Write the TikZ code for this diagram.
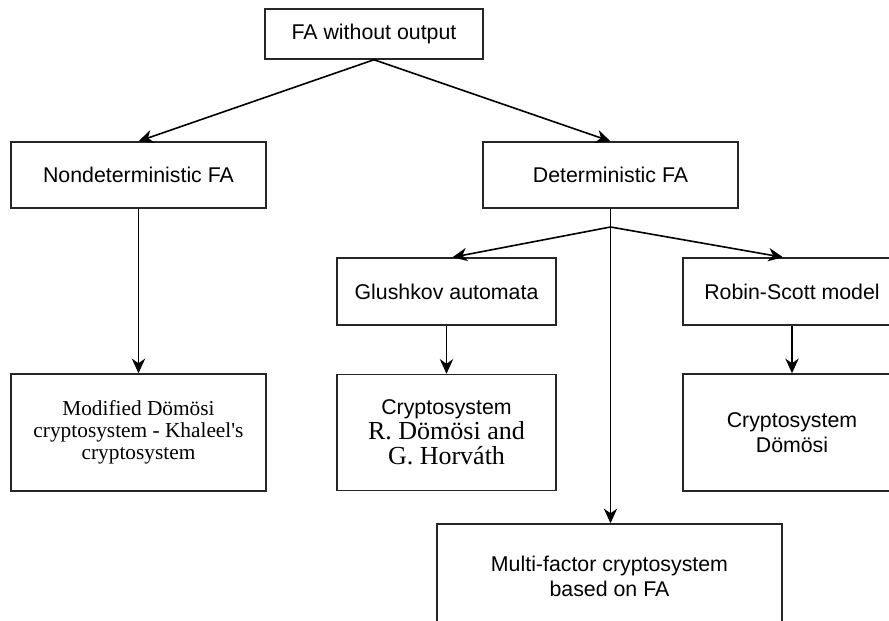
\documentclass[tikz,border=0pt]{standalone}
\usepackage{fontspec}
\setmainfont{Liberation Sans}
\newfontfamily\timesfont{Liberation Serif}
\usetikzlibrary{arrows.meta}

\begin{document}
\begin{tikzpicture}[x=0.75pt,y=-0.75pt,
    box/.style={draw=black!85,line width=1.1pt,align=center,inner sep=2pt,
      font=\fontsize{16}{18.75}\selectfont},
    serifbox/.style={box,font=\timesfont\fontsize{16}{16.5}\selectfont},
    link/.style={line width=1.2pt},
    arr/.style={link,-{Stealth[length=11pt,width=10pt,inset=3.5pt]}}]
\useasboundingbox (0,0) rectangle (889,621);
\clip (0,0) rectangle (889,621);
%the root
    \node[box,minimum width=163.5pt,minimum height=37.5pt] (fa) at (374,34) {FA without output};
%the two kinds of FA
    \node[box,minimum width=191.25pt,minimum height=49.5pt] (nfa) at (138.5,175) {Nondeterministic FA};
    \node[box,minimum width=191.25pt,minimum height=49.5pt] (dfa) at (610.5,175) {Deterministic FA};
%the models below the deterministic FA
    \node[box,minimum width=164.25pt,minimum height=50.25pt] (glu) at (446.5,291.5) {Glushkov automata};
    \node[box,minimum width=163.5pt,minimum height=50.25pt] (rs) at (792,291.5) {Robin-Scott model};
%the cryptosystems
    \node[serifbox,minimum width=191.25pt,minimum height=87.75pt] (mod) at (138.5,432.5)
      {Modified Dömösi\\cryptosystem - Khaleel's\\cryptosystem};
    \node[box,minimum width=164.25pt,minimum height=87pt] (crg) at (446.5,432.5)
      {Cryptosystem\\{\timesfont\fontsize{19.5}{19}\selectfont R. Dömösi and}\\{\timesfont\fontsize{19.5}{19}\selectfont G. Horváth}};
    \node[box,minimum width=163.5pt,minimum height=87.75pt] (crd) at (792,432.5) {Cryptosystem\\Dömösi};
    \node[box,minimum width=258.75pt,minimum height=78pt] (mf) at (609.5,576)
      {Multi-factor cryptosystem\\based on FA};
%the arrows
    \coordinate (split) at (610.5,227);
    \draw[arr] (fa.south) -- (nfa.north);
    \draw[arr] (fa.south) -- (dfa.north);
    \draw[arr] (nfa) -- (mod);
    \draw[link] (dfa.south) -- (split);
    \draw[arr] (split) -- ([xshift=4.5pt]glu.north);
    \draw[arr] (split) -- ([xshift=-6.75pt]rs.north);
    \draw[arr] (split) -- (split |- mf.north);
    \draw[arr] (glu) -- (crg);
    \draw[arr] (rs) -- (crd);
\end{tikzpicture}
\end{document}
